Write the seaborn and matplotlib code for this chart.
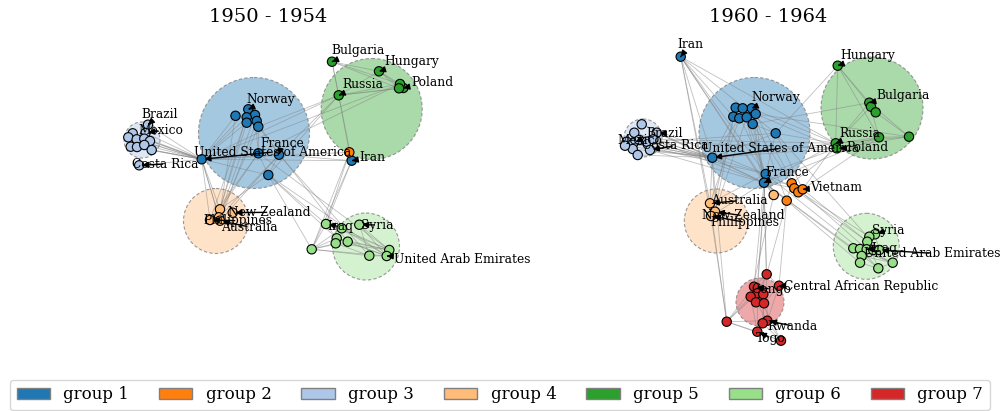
import numpy as np
import pandas as pd
import seaborn as sns
import matplotlib.pyplot as plt
from matplotlib.patches import Circle, Patch
from matplotlib.collections import LineCollection

sns.set_style("white")
plt.rcParams['font.family'] = ['DejaVu Serif']
plt.rcParams['text.color'] = 'black'

group_colors = {1: "#1f77b4", 2: "#ff7f0e", 3: "#aec7e8", 4: "#ffbb78",
                5: "#2ca02c", 6: "#98df8a", 7: "#d62728"}

#################
# 1950 - 1954 (layout coordinates)
#################
left_names = ["United States of America", "France", "", "Norway", "", "", "", "", "", "", "", "Iran",
              "",
              "Brazil", "Mexico", "", "", "", "", "", "", "", "", "", "Costa Rica",
              "", "New Zealand", "", "Philippines", "Australia",
              "Bulgaria", "Hungary", "Poland", "", "", "Russia",
              "Iraq", "", "Syria", "", "", "", "", "", "", "United Arab Emirates"]
left_group = [1] * 12 + [2] + [3] * 12 + [4] * 5 + [5] * 6 + [6] * 10
left_x = [201.7, 279.0, 258.3, 248.3, 255.0, 246.7, 256.7, 246.7, 258.3, 235.5, 268.3, 351.7,
          349.3,
          148.0, 145.5, 132.7, 128.3, 136.7, 144.3, 150.0, 130.7, 137.0, 144.3, 151.7, 139.2,
          220.0, 232.7, 219.0, 210.0, 220.0,
          332.0, 379.0, 403.3, 400.0, 399.0, 338.7,
          326.0, 341.7, 359.3, 336.7, 347.7, 335.7, 311.7, 369.3, 389.3, 386.7]
left_y = [159.3, 154.7, 153.3, 109.3, 115.0, 117.3, 121.0, 122.7, 126.7, 115.8, 175.0, 160.7,
          152.3,
          124.7, 133.0, 133.3, 137.3, 139.3, 138.7, 141.0, 146.7, 147.0, 145.0, 150.0, 165.3,
          209.3, 212.7, 217.3, 220.0, 220.7,
          61.7, 71.3, 88.0, 84.0, 88.3, 95.3,
          224.0, 228.3, 224.7, 238.3, 241.7, 243.3, 249.3, 255.7, 250.0, 256.0]
left_edges = [(0, 13), (0, 14), (0, 15), (0, 16), (0, 17), (0, 18), (0, 19), (0, 20), (0, 21), (0, 22), (0, 23), (0, 24),
              (0, 1), (0, 2), (0, 3), (0, 5), (0, 7), (0, 9), (0, 10), (0, 11), (0, 12),
              (0, 25), (0, 27), (0, 28), (0, 29), (0, 35), (0, 33),
              (3, 25), (4, 27), (5, 28), (6, 29), (7, 25), (8, 27), (2, 28), (1, 29), (10, 25), (9, 27), (2, 25), (1, 27),
              (1, 2), (2, 10), (1, 3), (2, 4), (3, 4), (5, 7), (6, 8), (4, 8), (1, 10), (2, 8),
              (10, 36), (10, 39), (10, 42), (10, 45), (2, 44), (1, 43), (8, 40),
              (1, 35), (2, 33), (10, 35), (8, 35),
              (11, 12), (12, 35), (11, 30), (11, 36), (11, 42), (12, 36), (12, 42), (11, 1),
              (30, 31), (30, 33), (30, 34), (31, 33), (31, 34), (31, 32), (35, 33), (35, 34), (35, 32), (30, 35), (35, 31),
              (36, 37), (36, 44), (37, 44), (37, 45), (38, 43), (38, 45), (39, 44), (39, 45), (40, 44), (40, 45),
              (41, 44), (41, 43), (42, 36), (42, 37), (42, 39), (42, 41), (42, 40), (42, 43), (42, 45), (39, 40),
              (43, 45), (38, 44), (36, 39)]
left_circle_group = [1, 3, 4, 5, 6]
left_circle_x = [254.0, 142.0, 216.0, 371.7, 366.0]
left_circle_y = [133.0, 140.0, 221.0, 109.0, 246.5]
left_circle_r = [55.5, 18.0, 32.5, 50.5, 33.5]
left_label_node = [0, 1, 3, 13, 14, 24, 11, 30, 31, 32, 35, 26, 28, 29, 36, 38, 45]
left_label_x = [273.0, 282.0, 271.0, 160.0, 161.0, 165.5, 372.0, 358.5, 411.5, 432.0, 363.0,
                269.5, 237.5, 249.5, 340.0, 377.0, 462.5]
left_label_y = [152.0, 143.3, 99.0, 114.0, 130.7, 164.0, 157.3, 50.7, 61.0, 82.0, 85.0,
                212.3, 220.7, 227.0, 226.7, 225.0, 259.0]

#################
# 1960 - 1964
#################
right_names = ["Iran", "Norway", "", "", "", "", "", "", "", "", "United States of America", "", "France",
               "", "", "", "Vietnam", "",
               "Brazil", "", "", "", "Mexico", "", "", "", "", "Costa Rica", "", "",
               "", "Australia", "New Zealand", "Philippines",
               "Hungary", "Bulgaria", "", "", "", "", "Russia", "Poland",
               "Syria", "", "", "", "", "Iraq", "", "United Arab Emirates", "", "", "", "",
               "", "Congo", "Central African Republic", "", "", "", "", "", "", "Rwanda", "", "Togo", ""]
right_group = [1] * 13 + [2] * 5 + [3] * 12 + [4] * 4 + [5] * 8 + [6] * 12 + [7] * 13
right_x = [680.7, 751.7, 735.7, 742.7, 755.7, 733.3, 739.3, 746.7, 752.7, 775.7, 712.3, 765.7, 764.0,
           791.7, 794.3, 798.3, 802.7, 786.7,
           656.7, 641.7, 634.3, 626.7, 633.3, 639.3, 646.7, 653.3, 632.7, 650.0, 637.7, 625.0,
           773.7, 710.0, 715.0, 711.0,
           837.7, 869.3, 871.0, 875.7, 879.0, 909.0, 835.7, 836.7,
           875.0, 869.3, 867.3, 853.3, 860.0, 866.7, 873.3, 879.3, 861.7, 860.0, 878.3, 892.7,
           766.7, 754.0, 779.0, 757.3, 763.3, 750.7, 756.0, 764.0, 726.7, 767.3, 762.7, 757.3, 781.0]
right_y = [56.7, 108.3, 107.7, 108.3, 114.0, 116.7, 118.3, 117.3, 124.0, 133.3, 157.7, 174.0, 182.7,
           183.3, 188.3, 192.3, 189.3, 200.7,
           132.7, 124.3, 132.7, 141.7, 143.3, 140.0, 141.7, 139.3, 149.0, 150.0, 155.0, 145.7,
           195.0, 203.3, 211.7, 216.0,
           65.7, 102.7, 106.7, 112.3, 137.3, 136.7, 143.3, 148.3,
           234.3, 236.7, 241.7, 248.3, 249.0, 249.3, 250.0, 250.0, 256.0, 262.7, 268.3, 262.7,
           274.3, 286.7, 285.7, 293.3, 294.3, 296.7, 302.3, 303.3, 321.7, 320.7, 323.3, 331.7, 340.7]
right_edges = [(10, 18), (10, 19), (10, 20), (10, 21), (10, 22), (10, 23), (10, 24), (10, 25), (10, 26), (10, 27), (10, 28), (10, 29),
               (18, 12), (19, 11), (20, 12), (22, 9), (25, 40), (24, 41), (27, 12), (21, 11),
               (0, 10), (0, 11), (0, 12), (0, 31), (0, 33), (0, 30), (0, 40), (0, 9), (0, 5),
               (1, 2), (1, 3), (2, 5), (3, 7), (4, 8), (6, 7), (5, 6), (1, 4), (8, 9), (9, 11), (10, 11), (10, 12), (11, 12),
               (1, 12), (2, 11), (3, 12), (5, 10), (6, 10), (7, 11), (8, 12), (4, 12), (9, 10),
               (12, 13), (11, 14), (12, 16), (8, 13), (4, 15), (9, 16), (1, 17), (12, 17),
               (10, 31), (10, 32), (12, 33), (11, 31), (2, 32), (5, 33), (12, 30), (11, 30), (6, 31), (7, 32),
               (10, 40), (10, 41), (9, 40), (1, 40), (4, 41), (12, 40), (11, 41), (8, 35), (9, 34), (4, 39), (12, 38),
               (16, 40), (13, 41), (15, 38),
               (12, 45), (11, 46), (16, 44), (13, 47), (9, 49), (12, 50), (17, 51), (14, 43), (15, 49),
               (12, 55), (11, 57), (10, 62), (12, 54), (30, 59), (31, 62), (33, 62), (17, 56), (13, 54), (11, 60), (12, 63),
               (34, 35), (34, 38), (34, 40), (35, 38), (35, 39), (36, 40), (37, 39), (38, 39), (38, 40), (39, 40),
               (41, 39), (35, 40), (34, 37), (35, 36), (36, 37), (41, 38),
               (42, 43), (42, 49), (43, 44), (44, 49), (45, 46), (45, 49), (46, 47), (47, 48), (48, 49), (45, 52),
               (46, 53), (50, 49), (51, 49), (52, 53), (50, 53), (51, 52), (44, 47), (43, 48), (45, 53), (46, 52),
               (47, 53), (44, 52), (50, 48),
               (54, 55), (54, 56), (54, 57), (55, 57), (55, 59), (56, 58), (56, 61), (57, 58), (58, 61), (59, 60),
               (60, 61), (62, 55), (62, 57), (62, 59), (62, 63), (62, 65), (62, 66), (63, 66), (65, 66), (64, 66),
               (60, 63), (61, 64), (57, 65), (58, 64), (59, 65), (55, 66), (56, 63), (54, 60)]
right_circle_group = [1, 3, 4, 5, 6, 7]
right_circle_x = [754.5, 643.0, 716.3, 872.0, 866.3, 760.0]
right_circle_y = [133.0, 138.0, 221.0, 108.0, 246.3, 302.0]
right_circle_r = [55.5, 19.0, 32.0, 51.0, 33.0, 24.0]
right_label_node = [0, 1, 10, 12, 16, 18, 22, 27, 40, 41, 34, 35, 31, 32, 33, 42, 47, 49, 55, 56, 63, 65]
right_label_x = [690.0, 776.0, 781.0, 787.0, 836.0, 665.0, 639.5, 675.0, 860.0, 867.0, 868.0, 903.0,
                 739.0, 743.0, 745.0, 888.0, 884.0, 932.0, 771.0, 861.0, 793.0, 771.0]
right_label_y = [44.7, 97.7, 148.3, 172.7, 187.3, 133.3, 140.0, 145.7, 133.3, 147.3, 55.3, 95.0,
                 200.7, 215.7, 222.3, 230.0, 248.5, 253.3, 289.0, 286.7, 326.0, 338.3]

W, H = 1000, 411
fig = plt.figure(figsize=(10, 4.11), dpi=100)


def draw_panel(px0, px1, title, names, groups, xs, ys, edges,
               c_group, c_x, c_y, c_r, l_node, l_x, l_y):
    py0, py1 = 30, 370
    ax = fig.add_axes([px0 / W, 1 - py1 / H, (px1 - px0) / W, (py1 - py0) / H])
    # group circles
    for g, cx, cy, r in zip(c_group, c_x, c_y, c_r):
        ax.add_patch(Circle((cx, cy), r, facecolor=group_colors[g], alpha=0.4,
                            edgecolor="none", zorder=0))
        ax.add_patch(Circle((cx, cy), r, facecolor="none", edgecolor="gray",
                            linestyle=(0, (3, 2)), lw=0.8, alpha=0.8, zorder=0.5))
    # edges
    segs = [[(xs[a], ys[a]), (xs[b], ys[b])] for a, b in edges]
    ax.add_collection(LineCollection(segs, colors="gray", linewidths=0.6, alpha=0.5, zorder=1))
    # nodes
    df = pd.DataFrame({"x": xs, "y": ys, "group": groups, "name": names})
    sns.scatterplot(data=df, x="x", y="y", hue="group", palette=group_colors, s=45,
                    edgecolor="black", linewidth=0.8, legend=False, ax=ax, zorder=2)
    ax.set_xlim(px0, px1)
    ax.set_ylim(py1, py0)
    ax.axis("off")
    # labels
    for n, tx, ty in zip(l_node, l_x, l_y):
        ax.annotate(names[n], xy=(xs[n], ys[n]), xytext=(tx, ty), ha="center", va="center",
                    fontsize=8.8, color="black", zorder=3,
                    arrowprops=dict(arrowstyle="-|>", color="black", lw=1))
    ax.set_title(title, fontsize=14, color="black")
    return ax


draw_panel(36, 500, "1950 - 1954", left_names, left_group, left_x, left_y, left_edges,
           left_circle_group, left_circle_x, left_circle_y, left_circle_r,
           left_label_node, left_label_x, left_label_y)
draw_panel(536, 1000, "1960 - 1964", right_names, right_group, right_x, right_y, right_edges,
           right_circle_group, right_circle_x, right_circle_y, right_circle_r,
           right_label_node, right_label_x, right_label_y)

handles = [Patch(facecolor=c, edgecolor="gray", label=f"group {g}") for g, c in group_colors.items()]
fig.legend(handles=handles, loc="lower left", ncol=7, mode="expand", fontsize=12,
           borderaxespad=0, bbox_to_anchor=(0.01, 0.0025, 0.98, 0.1))

fig.savefig("out.png", dpi=100)
